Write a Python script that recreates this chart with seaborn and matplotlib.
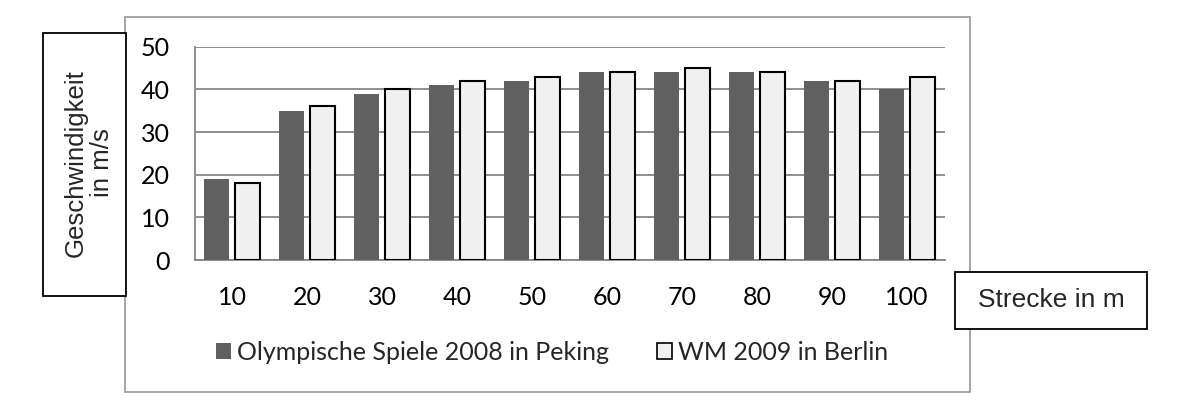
import pandas as pd
import seaborn as sns
import matplotlib.pyplot as plt
from matplotlib.patches import Rectangle

# data
strecke = [10, 20, 30, 40, 50, 60, 70, 80, 90, 100]
peking = [19, 35, 39, 41, 42, 44, 44, 44, 42, 40]
berlin = [18, 36, 40, 42, 43, 44, 45, 44, 42, 43]
serie_peking = "Olympische Spiele 2008 in Peking"
serie_berlin = "WM 2009 in Berlin"

df = pd.DataFrame({
    "Strecke": strecke * 2,
    "Geschwindigkeit": peking + berlin,
    "Serie": [serie_peking] * len(peking) + [serie_berlin] * len(berlin),
})

sns.set_style("white")
plt.rcParams["font.family"] = ["Lato", "DejaVu Sans"]

W, H = 1180, 400
fig = plt.figure(figsize=(W / 100, H / 100), dpi=100)
ax = fig.add_axes([194.5 / W, 1 - 260 / H, 750 / W, 213.3 / H])

sns.barplot(data=df, x="Strecke", y="Geschwindigkeit", hue="Serie",
            palette=["#606060", "#f0f0f0"], width=0.84, gap=0.2,
            ax=ax, legend=False, zorder=3)

# outline only the light bars
n = len(strecke)
for i, p in enumerate(ax.patches):
    if i >= n:
        p.set_edgecolor("black")
        p.set_linewidth(1.5)
    else:
        p.set_edgecolor("none")

ax.set_ylim(0, 50)
ax.set_yticks([0, 10, 20, 30, 40, 50])
ax.set_xlim(-0.5, n - 0.5)
ax.grid(axis="y", color="#868686", linewidth=1.3, zorder=0)
ax.set_axisbelow(True)
ax.set_xlabel("")
ax.set_ylabel("")
for s in ["top", "right"]:
    ax.spines[s].set_visible(False)
for s in ["left", "bottom"]:
    ax.spines[s].set_color("#868686")
    ax.spines[s].set_linewidth(1.3)
ax.tick_params(axis="both", length=0, labelsize=18, colors="black")
ax.tick_params(axis="x", pad=19)
ax.tick_params(axis="y", pad=18)

# legend below the axes
handles = [Rectangle((0, 0), 1, 1, facecolor="#606060", edgecolor="none"),
           Rectangle((0, 0), 1, 1, facecolor="#f0f0f0", edgecolor="black", linewidth=1.2)]
fig.legend(handles, [serie_peking, serie_berlin], loc="center",
           bbox_to_anchor=(552 / W, 1 - 352 / H), ncol=2, frameon=False,
           fontsize=18, handlelength=0.6, handleheight=0.6, handletextpad=0.25,
           columnspacing=1.9, borderpad=0, borderaxespad=0)

# outer chart frame
fig.add_artist(Rectangle((125 / W, 1 - 392 / H), 845 / W, 375 / H,
                         transform=fig.transFigure, fill=False,
                         edgecolor="#969696", linewidth=1.2))

# y label box
fig.add_artist(Rectangle((43 / W, 1 - 296 / H), 83 / W, 263 / H,
                         transform=fig.transFigure, facecolor="white",
                         edgecolor="black", linewidth=1.3, zorder=5))
fig.text(89 / W, 1 - 163 / H, "Geschwindigkeit\nin m/s", rotation=90,
         ha="center", va="center", fontsize=18.6, family="Liberation Sans",
         linespacing=1.15, zorder=6)

# x label box
fig.add_artist(Rectangle((955 / W, 1 - 329 / H), 192 / W, 57 / H,
                         transform=fig.transFigure, facecolor="white",
                         edgecolor="black", linewidth=1.3, zorder=5))
fig.text(1051 / W, 1 - 300 / H, "Strecke in m", ha="center", va="center",
         fontsize=19, family="Liberation Sans", zorder=6)

fig.savefig("out.png", dpi=100)
